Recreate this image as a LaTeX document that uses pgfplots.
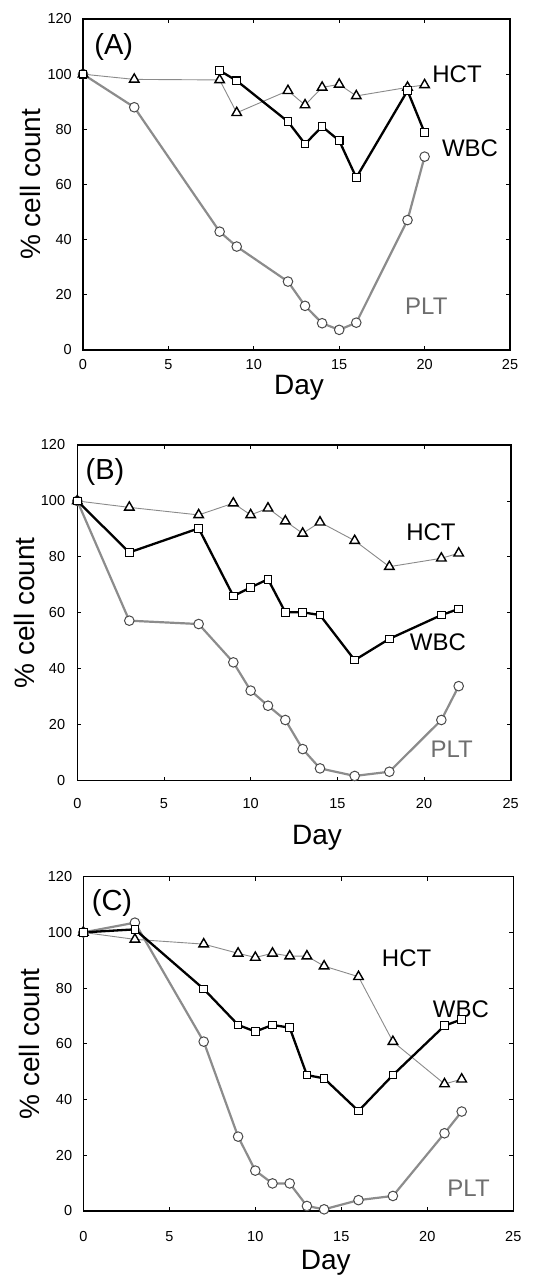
\documentclass[border=0pt]{standalone}
\usepackage{fontspec}
\setmainfont{Liberation Sans}
\usepackage{pgfplots}
\pgfplotsset{compat=1.18}
\definecolor{hctline}{HTML}{8A8A8A}
\definecolor{pltline}{HTML}{8C8C8C}
\definecolor{pltmark}{HTML}{4A4A4A}
\definecolor{plttext}{HTML}{6E6E6E}
\tikzset{
 lab/.style={font=\fontsize{24}{24}\selectfont, anchor=center},
 plab/.style={font=\fontsize{29}{29}\selectfont, anchor=center},
}
\pgfplotsset{
 panel/.style={scale only axis, anchor=south west, xmin=0,xmax=25,ymin=0,ymax=120,
  xtick={0,5,10,15,20,25}, ytick={0,20,40,60,80,100,120},
  tick align=inside, major tick length=4pt, tick style={black, line width=0.8pt},
  axis line style={line width=1.6pt},
  /pgf/number format/assume math mode=true,
  tick label style={font=\fontsize{14.5}{14.5}\selectfont, inner sep=0pt},
  yticklabel style={anchor=east, xshift=-11pt},
  label style={font=\fontsize{28}{28}\selectfont},
  xlabel={Day}, ylabel={\% cell count},
  clip=false,
 },
 hct/.style={color=hctline, line width=0.9pt, mark=triangle*, mark size=5.5pt, mark options={draw=black, fill=white, line width=1.4pt}},
 wbc/.style={black, line width=2.3pt, mark=square*, mark size=3.8pt, mark options={draw=black, fill=white, line width=1.1pt}},
 plt/.style={color=pltline, line width=2.2pt, mark=*, mark size=4.8pt, mark options={draw=pltmark, fill=white, line width=1pt}},
}
\begin{document}
\begin{tikzpicture}[x=1pt,y=1pt]
\useasboundingbox (0pt,0pt) rectangle (554pt,1277pt);
% ---------------- Panel A
\begin{axis}[panel, at={(83pt,927pt)}, width=427pt, height=331pt,
  xticklabel style={anchor=center, yshift=-15pt},
  xlabel style={at={(axis description cs:0.506,-0.115)}, anchor=center},
  ylabel style={at={(axis description cs:-0.124,0.5)}, anchor=center}]
\addplot[plt] coordinates {(0,100) (3,88) (8,42.9) (9,37.5) (12,24.8) (13,16) (14,9.7) (15,7.3) (16,9.9) (19,47.1) (20,70.1)};
\addplot[hct] coordinates {(0,100) (3,98.1) (8,97.9) (9,86) (12,94) (13,88.8) (14,95.2) (15,96.3) (16,92.1) (19,95.2) (20,96.1)};
\addplot[wbc] coordinates {(0,100)};
\addplot[wbc] coordinates {(8,101.3) (9,97.6) (12,82.8) (13,74.7) (14,81) (15,75.9) (16,62.5) (19,94) (20,78.8)};
\node[plab] at (axis cs:1.8,109.8) {(A)};
\node[lab] at (axis cs:21.9,100) {HCT};
\node[lab] at (axis cs:22.66,73.2) {WBC};
\node[lab, text=plttext] at (axis cs:20.1,16) {PLT};
\end{axis}
% ---------------- Panel B
\begin{axis}[panel, at={(77.3pt,496.3pt)}, width=433.4pt, height=335.7pt,
  xticklabel style={anchor=center, yshift=-23pt},
  yticklabel style={xshift=-1pt},
  xlabel style={at={(axis description cs:0.553,-0.170)}, anchor=center},
  ylabel style={at={(axis description cs:-0.121,0.5)}, anchor=center}]
\addplot[plt] coordinates {(0,100) (3,57.2) (7,56) (9,42.3) (10,32.2) (11,26.8) (12,21.7) (13,11.3) (14,4.4) (16,1.7) (18,3.2) (21,21.7) (22,33.8)};
\addplot[hct] coordinates {(0,100) (3,97.7) (7,95) (9,99.2) (10,95) (11,97.4) (12,92.8) (13,88.4) (14,92.4) (16,85.8) (18,76.5) (21,79.5) (22,81.3)};
\addplot[wbc] coordinates {(0,100) (3,81.6) (7,90.2) (9,66) (10,69.1) (11,72) (12,60.2) (13,60.2) (14,59.2) (16,43.1) (18,50.7) (21,59.2) (22,61.4)};
\node[plab] at (axis cs:1.6,110.4) {(B)};
\node[lab] at (axis cs:20.4,88.9) {HCT};
\node[lab] at (axis cs:20.8,49.6) {WBC};
\node[lab, text=plttext] at (axis cs:21.6,11.3) {PLT};
\end{axis}
% ---------------- Panel C
\begin{axis}[panel, at={(83.3pt,66pt)}, width=430pt, height=334.3pt,
  xticklabel style={anchor=center, yshift=-26pt},
  xlabel style={at={(axis description cs:0.564,-0.156)}, anchor=center},
  ylabel style={at={(axis description cs:-0.124,0.5)}, anchor=center}]
\addplot[plt] coordinates {(0,100) (3,103.5) (7,60.8) (9,26.7) (10,14.5) (11,9.9) (12,9.9) (13,1.8) (14,0.6) (16,3.9) (18,5.4) (21,27.9) (22,35.7)};
\addplot[hct] coordinates {(0,100) (3,97.5) (7,95.8) (9,92.5) (10,91) (11,92.5) (12,91.5) (13,91.5) (14,87.9) (16,84.1) (18,60.8) (21,45.6) (22,47.3)};
\addplot[wbc] coordinates {(0,100) (3,101.1) (7,79.7) (9,66.8) (10,64.4) (11,66.8) (12,65.8) (13,48.8) (14,47.6) (16,35.9) (18,48.8) (21,66.5) (22,68.8)};
\node[plab] at (axis cs:1.67,110.5) {(C)};
\node[lab] at (axis cs:18.8,90.8) {HCT};
\node[lab] at (axis cs:21.95,72.5) {WBC};
\node[lab, text=plttext] at (axis cs:22.4,8.3) {PLT};
\end{axis}
\end{tikzpicture}
\end{document}
